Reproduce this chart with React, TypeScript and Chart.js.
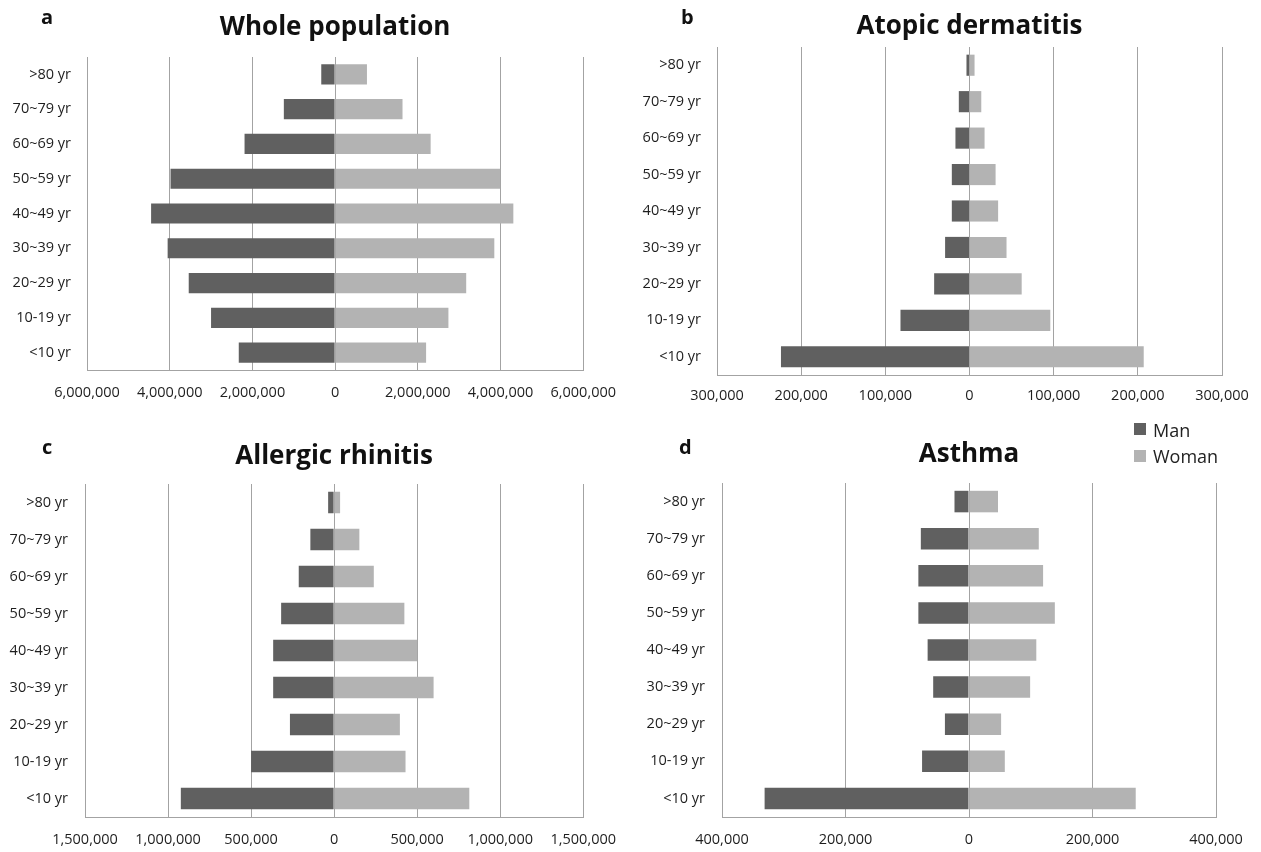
import React, { useEffect, useRef } from "react";
import { Chart, registerables } from "chart.js";

Chart.register(...registerables);

// ---------- data ----------
const ageGroups = [">80 yr", "70~79 yr", "60~69 yr", "50~59 yr", "40~49 yr", "30~39 yr", "20~29 yr", "10-19 yr", "<10 yr"];
const seriesNames = ["Man", "Woman"];

const wholeMan = [335000, 1240000, 2190000, 3980000, 4450000, 4050000, 3540000, 3000000, 2330000];
const wholeWoman = [770000, 1630000, 2310000, 3990000, 4310000, 3850000, 3170000, 2740000, 2200000];

const atopicMan = [3600, 12700, 16700, 21000, 21000, 29000, 42000, 82000, 224000];
const atopicWoman = [6000, 14000, 17900, 31000, 34000, 44000, 62000, 96000, 207000];

const rhinitisMan = [36000, 143000, 213000, 319000, 367000, 367000, 266000, 500000, 923000];
const rhinitisWoman = [36000, 152000, 239000, 423000, 500000, 599000, 396000, 430000, 814000];

const asthmaMan = [23500, 78000, 82000, 82000, 67000, 58000, 39000, 76000, 331000];
const asthmaWoman = [47000, 113000, 120000, 139000, 109000, 99000, 52000, 58000, 270000];

const axisLimits = { whole: 6000000, atopic: 300000, rhinitis: 1500000, asthma: 400000 };
const axisSteps = { whole: 2000000, atopic: 100000, rhinitis: 500000, asthma: 200000 };

// ---------- styles ----------
const MAN_COLOR = "#606060";
const WOMAN_COLOR = "#b3b3b3";
const GRID_COLOR = "#a3a3a3";
const TEXT_COLOR = "#1e1e1e";
const FONT = "'Open Sans', 'DejaVu Sans', sans-serif";

const fmt = (v: number) => String(Math.round(Math.abs(v))).replace(/\B(?=(\d{3})+(?!\d))/g, ",");

type PanelProps = {
  left: number;
  top: number;
  width: number;
  height: number;
  areaLeft: number;
  areaRight: number;
  areaTop: number;
  areaBottom: number;
  titleTop: number;
  tickPad: number;
  labelPad: number;
  title: string;
  man: number[];
  woman: number[];
  max: number;
  step: number;
};

const TITLE_SIZE = 26;
const TITLE_LH = 1.2;

function Panel(p: PanelProps) {
  const ref = useRef<HTMLCanvasElement>(null);
  useEffect(() => {
    const titleGap = p.areaTop - p.titleTop - TITLE_SIZE * TITLE_LH;
    const chart = new Chart(ref.current as HTMLCanvasElement, {
      type: "bar",
      data: {
        labels: ageGroups,
        datasets: [
          {
            label: seriesNames[0],
            data: p.man.map((v) => -v),
            backgroundColor: MAN_COLOR,
            borderWidth: 0,
            barPercentage: 0.58,
            categoryPercentage: 1,
          },
          {
            label: seriesNames[1],
            data: p.woman,
            backgroundColor: WOMAN_COLOR,
            borderWidth: 0,
            barPercentage: 0.58,
            categoryPercentage: 1,
          },
        ],
      },
      options: {
        indexAxis: "y",
        responsive: false,
        animation: false,
        layout: { padding: { left: 0, top: p.titleTop, right: p.width - p.areaRight, bottom: 0 } },
        plugins: {
          legend: { display: false },
          tooltip: { enabled: false },
          title: {
            display: true,
            text: p.title,
            fullSize: false,
            color: "#111111",
            font: { family: FONT, size: TITLE_SIZE, weight: "bold", lineHeight: TITLE_LH },
            padding: { top: 0, bottom: titleGap },
          },
        },
        scales: {
          x: {
            type: "linear",
            stacked: true,
            min: -p.max,
            max: p.max,
            ticks: {
              stepSize: p.step,
              autoSkip: false,
              maxRotation: 0,
              padding: p.tickPad,
              color: TEXT_COLOR,
              font: { family: FONT, size: 14.5 },
              callback: (v: any) => fmt(Number(v)),
            },
            grid: { color: GRID_COLOR, lineWidth: 1, drawTicks: false },
            border: { display: true, color: GRID_COLOR, width: 1 },
            afterFit: (s: any) => {
              s.height = p.height - p.areaBottom;
            },
          },
          y: {
            type: "category",
            stacked: true,
            grid: { display: false, drawTicks: false },
            border: { display: false },
            ticks: {
              padding: p.labelPad,
              color: TEXT_COLOR,
              font: { family: FONT, size: 14.5 },
            },
            afterFit: (s: any) => {
              s.width = p.areaLeft;
            },
          },
        },
      },
    } as any);
    return () => chart.destroy();
  }, []);
  return (
    <canvas
      ref={ref}
      width={p.width}
      height={p.height}
      style={{ position: "absolute", left: p.left, top: p.top, width: p.width, height: p.height }}
    />
  );
}

const letterStyle: React.CSSProperties = {
  position: "absolute",
  fontFamily: FONT,
  fontWeight: 700,
  fontSize: 20,
  lineHeight: "24px",
  color: "#111",
};

export default function App() {
  return (
    <div
      style={{
        position: "absolute",
        left: 0,
        top: 0,
        width: 1261,
        height: 852,
        background: "#ffffff",
        overflow: "hidden",
      }}
    >
      <Panel
        left={0}
        top={0}
        width={630}
        height={420}
        areaLeft={87}
        areaRight={585}
        areaTop={57}
        areaBottom={370}
        titleTop={12.4}
        tickPad={14}
        labelPad={16}
        title="Whole population"
        man={wholeMan}
        woman={wholeWoman}
        max={axisLimits.whole}
        step={axisSteps.whole}
      />
      <Panel
        left={630}
        top={0}
        width={631}
        height={420}
        areaLeft={87}
        areaRight={592}
        areaTop={47}
        areaBottom={375}
        titleTop={11.4}
        tickPad={12}
        labelPad={16}
        title="Atopic dermatitis"
        man={atopicMan}
        woman={atopicWoman}
        max={axisLimits.atopic}
        step={axisSteps.atopic}
      />
      <Panel
        left={0}
        top={420}
        width={630}
        height={432}
        areaLeft={85}
        areaRight={584}
        areaTop={64}
        areaBottom={397}
        titleTop={21.4}
        tickPad={14}
        labelPad={17}
        title="Allergic rhinitis"
        man={rhinitisMan}
        woman={rhinitisWoman}
        max={axisLimits.rhinitis}
        step={axisSteps.rhinitis}
      />
      <Panel
        left={630}
        top={420}
        width={631}
        height={432}
        areaLeft={92}
        areaRight={586}
        areaTop={63}
        areaBottom={397}
        titleTop={19.4}
        tickPad={14}
        labelPad={17}
        title="Asthma"
        man={asthmaMan}
        woman={asthmaWoman}
        max={axisLimits.asthma}
        step={axisSteps.asthma}
      />

      <div style={{ ...letterStyle, left: 41, top: 5 }}>a</div>
      <div style={{ ...letterStyle, left: 681, top: 5 }}>b</div>
      <div style={{ ...letterStyle, left: 42, top: 435 }}>c</div>
      <div style={{ ...letterStyle, left: 679, top: 435 }}>d</div>

      <div style={{ position: "absolute", left: 1134, top: 423, width: 12, height: 12, background: MAN_COLOR }} />
      <div
        style={{
          position: "absolute",
          left: 1153,
          top: 418,
          fontFamily: FONT,
          fontSize: 18,
          lineHeight: "24px",
          color: "#222",
        }}
      >
        {seriesNames[0]}
      </div>
      <div style={{ position: "absolute", left: 1134, top: 450, width: 12, height: 12, background: WOMAN_COLOR }} />
      <div
        style={{
          position: "absolute",
          left: 1153,
          top: 444,
          fontFamily: FONT,
          fontSize: 18,
          lineHeight: "24px",
          color: "#222",
        }}
      >
        {seriesNames[1]}
      </div>
    </div>
  );
}
